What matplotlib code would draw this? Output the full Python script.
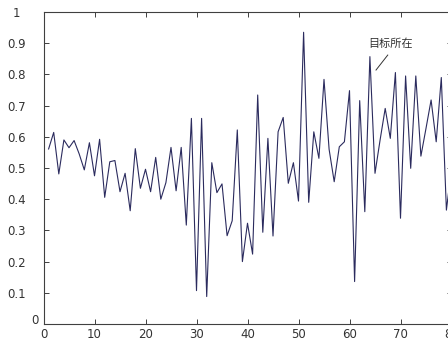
import numpy as np
import matplotlib
matplotlib.use('Agg')
import matplotlib.pyplot as plt

x_values = list(range(1, 81))
y_values = [0.561, 0.614, 0.481, 0.590, 0.565, 0.588, 0.545, 0.494, 0.581, 0.475,
            0.592, 0.406, 0.520, 0.524, 0.424, 0.483, 0.363, 0.562, 0.435, 0.496,
            0.424, 0.534, 0.400, 0.453, 0.566, 0.427, 0.566, 0.317, 0.659, 0.107,
            0.659, 0.088, 0.517, 0.421, 0.449, 0.283, 0.331, 0.622, 0.200, 0.323,
            0.224, 0.734, 0.294, 0.595, 0.282, 0.616, 0.662, 0.451, 0.517, 0.394,
            0.935, 0.390, 0.616, 0.531, 0.784, 0.560, 0.456, 0.568, 0.584, 0.748,
            0.136, 0.716, 0.360, 0.857, 0.483, 0.590, 0.691, 0.595, 0.806, 0.339,
            0.795, 0.499, 0.795, 0.538, 0.627, 0.718, 0.584, 0.790, 0.365, 0.500]

x_ticks = [0, 10, 20, 30, 40, 50, 60, 70, 80]
y_ticks = [0, 0.1, 0.2, 0.3, 0.4, 0.5, 0.6, 0.7, 0.8, 0.9, 1]
y_tick_labels = ['', '0.1', '0.2', '0.3', '0.4', '0.5', '0.6', '0.7', '0.8', '0.9', '1']

annot_text = '目标所在'

plt.rcParams['font.family'] = ['DejaVu Sans']

fig = plt.figure(figsize=(4.48, 3.4), dpi=100)
# axes runs a little past the right edge, like the cropped original
ax = fig.add_axes([43.5 / 448, 16 / 340, 408 / 448, 312 / 340])

ax.plot(x_values, y_values, color='#2b2b5e', linewidth=0.8)

ax.set_xlim(0, 80)
ax.set_ylim(0, 1)
ax.set_xticks(x_ticks)
ax.set_yticks(y_ticks)
ax.set_yticklabels(y_tick_labels)

# MATLAB style box with inward ticks
ax.tick_params(direction='in', top=True, right=True, length=3.5, width=0.7,
               color='#404040', labelcolor='#333333', labelsize=8.5)
ax.tick_params(axis='x', pad=3)
ax.tick_params(axis='y', pad=19.5)
for lbl in ax.get_yticklabels():
    lbl.set_horizontalalignment('center')
for sp in ax.spines.values():
    sp.set_color('#404040')
    sp.set_linewidth(0.8)

# the zero label sits close to the corner
ax.annotate('0', xy=(0, 0), xycoords='data', xytext=(-8.5, 3), textcoords='offset pixels',
            ha='center', va='center', fontsize=8.5, color='#333333', annotation_clip=False)

# target marker
ax.plot([65.2, 67.5], [0.814, 0.862], color='#333333', linewidth=0.7)
ax.text(68.0, 0.897, annot_text, ha='center', va='center', fontsize=8, color='#333333',
        family=['Noto Sans CJK SC', 'DejaVu Sans'])

fig.savefig('out.png', dpi=100, facecolor='white')
